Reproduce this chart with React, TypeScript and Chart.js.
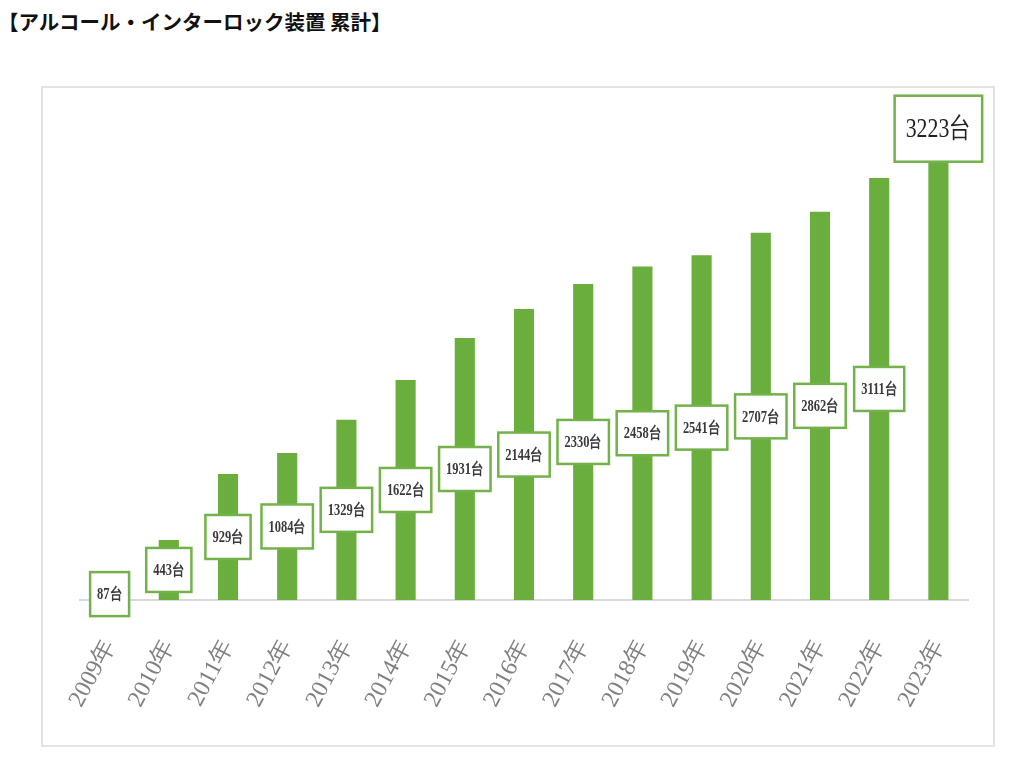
import React, { useEffect, useRef } from "react";
import { Chart, registerables } from "chart.js";

Chart.register(...registerables);

const TITLE = "【アルコール・インターロック装置 累計】";
const years = ["2009年", "2010年", "2011年", "2012年", "2013年", "2014年", "2015年", "2016年", "2017年", "2018年", "2019年", "2020年", "2021年", "2022年", "2023年"];
const totals = [87, 443, 929, 1084, 1329, 1622, 1931, 2144, 2330, 2458, 2541, 2707, 2862, 3111, 3223];
const unit = "台";

const BAR_COLOR = "#6aae3e";
const BOX_BORDER = "#73b24a";

const labelPlugin = {
  id: "boxLabels",
  afterDatasetsDraw(chart: any) {
    const ctx = chart.ctx;
    const meta = chart.getDatasetMeta(0);
    const last = meta.data.length - 1;
    meta.data.forEach((bar: any, i: number) => {
      const text = totals[i] + unit;
      const isLast = i === last;
      const fontSize = isLast ? 28 : 16;
      ctx.save();
      ctx.font = `${isLast ? "" : "bold "}${fontSize}px "Liberation Serif", serif`;
      const sx = 0.78;
      const tw = ctx.measureText(text).width * sx;
      const padX = isLast ? 11 : 7;
      const w = tw + padX * 2;
      const h = isLast ? 66 : 44;
      let cy: number;
      if (isLast) {
        cy = bar.y - h / 2 - 1;
      } else {
        cy = (bar.y + bar.base) / 2;
      }
      const x0 = bar.x - w / 2;
      const y0 = cy - h / 2;
      ctx.fillStyle = "#ffffff";
      ctx.fillRect(x0, y0, w, h);
      ctx.strokeStyle = BOX_BORDER;
      ctx.lineWidth = 2.5;
      ctx.strokeRect(x0, y0, w, h);
      ctx.fillStyle = isLast ? "#222222" : "#3a3a3a";
      ctx.textAlign = "center";
      ctx.textBaseline = "middle";
      ctx.translate(bar.x, cy + 1);
      ctx.scale(sx, 1);
      ctx.fillText(text, 0, 0);
      ctx.restore();
    });
  },
};

export default function App() {
  const ref = useRef<HTMLCanvasElement>(null);
  useEffect(() => {
    if (!ref.current) return;
    const chart = new Chart(ref.current, {
      type: "bar",
      data: {
        labels: years,
        datasets: [
          {
            data: totals,
            backgroundColor: BAR_COLOR,
            barPercentage: 0.34,
            categoryPercentage: 1,
          },
        ],
      },
      options: {
        responsive: false,
        animation: false,
        devicePixelRatio: 1,
        layout: { padding: { left: 80, right: 57, top: 98, bottom: 48 } },
        plugins: { legend: { display: false }, tooltip: { enabled: false }, title: { display: false } },
        scales: {
          x: {
            grid: { display: false, drawTicks: false, tickLength: 0 },
            border: { display: true, color: "#d9d9d9", width: 2 },
            ticks: {
              autoSkip: false,
              minRotation: 62,
              maxRotation: 62,
              padding: 35,
              color: "#808080",
              font: { family: '"Liberation Serif", serif', size: 24 },
            },
            afterFit: (scale: any) => {
              scale.height = 120;
            },
          },
          y: { display: false, min: 0, max: 3700 },
        },
      },
      plugins: [labelPlugin],
    });
    return () => chart.destroy();
  }, []);
  return (
    <div style={{ position: "absolute", left: 0, top: 0, width: 1025, height: 768, background: "#fff" }}>
      <div
        style={{
          position: "absolute",
          left: -2,
          top: 6,
          fontFamily: '"Noto Sans CJK JP", sans-serif',
          fontWeight: 700,
          fontSize: 20.5,
          lineHeight: "30px",
          color: "#111",
          whiteSpace: "nowrap",
        }}
      >
        {TITLE}
      </div>
      <div
        style={{
          position: "absolute",
          left: 41,
          top: 86,
          width: 950,
          height: 657,
          border: "2px solid #e4e4e4",
        }}
      />
      <canvas ref={ref} width={1025} height={768} style={{ position: "absolute", left: 0, top: 0 }} />
    </div>
  );
}
